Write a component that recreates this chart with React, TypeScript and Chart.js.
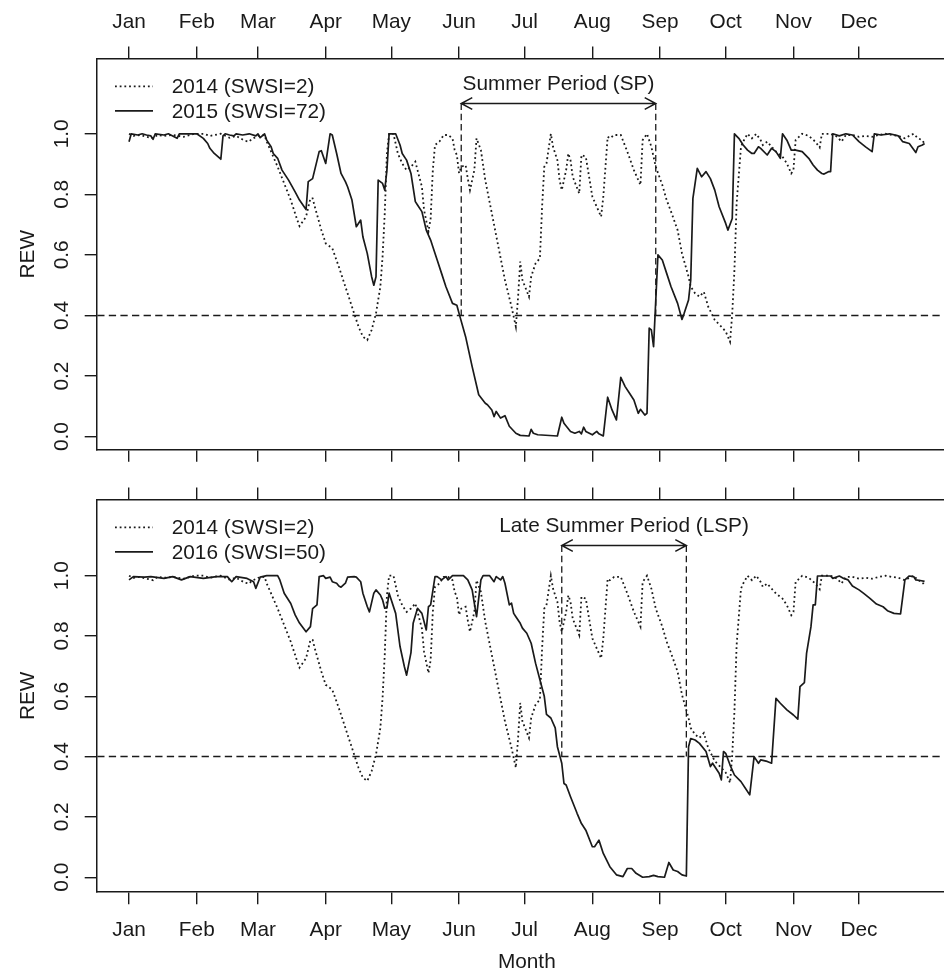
import React, { useEffect, useRef } from "react";
import { Chart, registerables } from "chart.js";
Chart.register(...registerables);

// ---------- data ----------
const MONTH_DAYS = [1, 32, 60, 91, 121, 152, 182, 213, 244, 274, 305, 335];
const MONTH_LABELS = ["Jan", "Feb", "Mar", "Apr", "May", "Jun", "Jul", "Aug", "Sep", "Oct", "Nov", "Dec"];
const Y_TICKS = [0, 0.2, 0.4, 0.6, 0.8, 1.0];

const DAYS_2014 = [1, 3, 6, 9, 12, 14, 17, 21, 26, 31, 35, 38, 40, 43, 47, 50, 54, 56, 57, 60, 63, 64, 66, 69, 72, 75, 78, 79, 82, 84, 85, 86, 89, 91, 94, 97, 100, 103, 106, 108, 110, 112, 114, 116, 117, 118, 119, 120, 122, 124, 126, 128, 130, 132, 133, 135, 136, 138, 139, 140, 141, 143, 145, 147, 149, 150, 151, 152, 153, 155, 156, 157, 159, 160, 162, 164, 167, 170, 173, 176, 178, 179, 180, 181, 184, 185, 187, 189, 190, 191, 192, 194, 195, 197, 198, 199, 201, 202, 203, 204, 207, 208, 210, 211, 213, 217, 218, 220, 221, 223, 226, 229, 232, 235, 236, 238, 240, 241, 242, 245, 247, 249, 252, 254, 257, 258, 260, 262, 264, 266, 269, 272, 274, 275, 276, 277, 278, 279, 281, 282, 284, 286, 288, 290, 291, 293, 295, 297, 300, 302, 304, 305, 306, 309, 312, 315, 317, 318, 322, 325, 327, 329, 332, 335, 338, 341, 344, 347, 350, 353, 356, 358, 360, 362, 364, 365];
const REW_2014 = [1.0, 0.993, 0.996, 0.99, 0.985, 0.996, 0.993, 0.996, 0.99, 1.0, 1.0, 0.993, 0.996, 1.0, 0.987, 0.993, 0.977, 0.974, 0.982, 0.993, 0.996, 0.974, 0.941, 0.891, 0.836, 0.781, 0.715, 0.695, 0.726, 0.787, 0.787, 0.759, 0.682, 0.638, 0.622, 0.561, 0.495, 0.429, 0.363, 0.33, 0.319, 0.352, 0.407, 0.495, 0.594, 0.737, 0.935, 1.0, 1.0, 0.935, 0.902, 0.88, 0.891, 0.908, 0.88, 0.825, 0.748, 0.677, 0.72, 0.88, 0.963, 0.974, 0.996, 0.996, 0.985, 0.946, 0.93, 0.87, 0.891, 0.897, 0.852, 0.814, 0.88, 0.985, 0.946, 0.847, 0.737, 0.627, 0.517, 0.429, 0.363, 0.46, 0.578, 0.517, 0.462, 0.528, 0.572, 0.589, 0.759, 0.891, 0.902, 1.0, 0.957, 0.913, 0.847, 0.814, 0.88, 0.935, 0.913, 0.858, 0.803, 0.93, 0.924, 0.88, 0.792, 0.726, 0.792, 0.99, 0.985, 0.996, 0.996, 0.941, 0.88, 0.831, 0.979, 1.0, 0.957, 0.924, 0.891, 0.831, 0.781, 0.743, 0.682, 0.605, 0.528, 0.495, 0.473, 0.462, 0.478, 0.429, 0.385, 0.363, 0.347, 0.33, 0.313, 0.407, 0.55, 0.77, 0.957, 0.974, 1.0, 0.985, 1.0, 0.979, 0.963, 0.974, 0.957, 0.941, 0.924, 0.902, 0.869, 0.88, 0.979, 1.0, 0.993, 0.974, 0.955, 1.0, 1.0, 0.99, 0.974, 0.996, 0.996, 0.99, 0.993, 0.99, 0.996, 1.0, 0.996, 0.993, 0.985, 0.993, 1.0, 0.985, 0.979, 0.966];

const DAYS_2015 = [1, 2, 5, 7, 9, 11, 12, 13, 17, 19, 21, 23, 24, 28, 32, 35, 37, 38, 40, 43, 44, 45, 47, 49, 50, 53, 56, 59, 60, 61, 63, 64, 66, 67, 69, 71, 74, 77, 79, 82, 83, 84, 85, 88, 89, 91, 93, 94, 96, 98, 100, 101, 103, 105, 107, 108, 110, 112, 113, 114, 115, 117, 118, 119, 120, 123, 125, 126, 128, 130, 132, 133, 135, 137, 139, 140, 142, 144, 146, 149, 151, 152, 155, 158, 161, 164, 165, 167, 168, 169, 171, 173, 175, 178, 180, 184, 185, 186, 188, 197, 199, 200, 203, 205, 207, 208, 209, 210, 213, 215, 216, 218, 220, 222, 224, 226, 228, 230, 232, 234, 235, 237, 238, 239, 240, 241, 243, 245, 247, 249, 252, 254, 255, 257, 258, 259, 261, 263, 265, 267, 269, 271, 274, 275, 277, 278, 280, 282, 284, 286, 287, 289, 290, 293, 295, 297, 299, 300, 302, 304, 306, 309, 312, 314, 316, 318, 319, 321, 322, 323, 326, 329, 332, 335, 338, 341, 342, 345, 349, 353, 355, 358, 361, 362, 364, 365];
const REW_2015 = [0.974, 1.0, 0.996, 1.0, 0.996, 0.993, 0.982, 1.0, 0.996, 1.0, 0.993, 0.985, 1.0, 1.0, 1.0, 0.985, 0.968, 0.952, 0.935, 0.916, 0.993, 1.0, 0.996, 0.993, 1.0, 0.996, 1.0, 0.993, 1.0, 0.987, 1.0, 0.979, 0.957, 0.935, 0.919, 0.88, 0.847, 0.808, 0.781, 0.75, 0.842, 0.847, 0.852, 0.941, 0.944, 0.902, 1.0, 0.996, 0.935, 0.869, 0.842, 0.825, 0.781, 0.693, 0.715, 0.66, 0.605, 0.528, 0.5, 0.528, 0.847, 0.836, 0.814, 0.88, 1.0, 1.0, 0.963, 0.935, 0.913, 0.869, 0.776, 0.765, 0.743, 0.682, 0.649, 0.627, 0.583, 0.539, 0.495, 0.44, 0.434, 0.407, 0.33, 0.231, 0.138, 0.11, 0.105, 0.088, 0.066, 0.083, 0.061, 0.069, 0.034, 0.011, 0.004, 0.002, 0.024, 0.011, 0.006, 0.002, 0.064, 0.044, 0.017, 0.011, 0.017, 0.009, 0.031, 0.017, 0.006, 0.017, 0.009, 0.002, 0.13, 0.088, 0.055, 0.196, 0.165, 0.143, 0.121, 0.077, 0.09, 0.071, 0.077, 0.358, 0.352, 0.297, 0.6, 0.583, 0.539, 0.495, 0.44, 0.387, 0.407, 0.451, 0.517, 0.787, 0.886, 0.858, 0.875, 0.852, 0.814, 0.759, 0.704, 0.682, 0.72, 1.0, 0.985, 0.963, 0.946, 0.935, 0.935, 0.957, 0.952, 0.93, 0.952, 0.941, 0.919, 1.0, 0.979, 0.946, 0.946, 0.941, 0.919, 0.897, 0.88, 0.869, 0.867, 0.875, 0.875, 1.0, 0.993, 1.0, 0.996, 0.974, 0.957, 0.941, 1.0, 0.996, 1.0, 0.993, 0.974, 0.968, 0.938, 0.957, 0.963, 0.968];

const DAYS_2016 = [1, 3, 8, 11, 17, 21, 25, 29, 35, 41, 46, 48, 50, 55, 58, 59, 61, 64, 69, 70, 72, 75, 77, 79, 82, 84, 85, 87, 88, 90, 91, 93, 94, 96, 97, 98, 100, 101, 104, 105, 107, 108, 110, 111, 113, 114, 116, 117, 118, 119, 120, 123, 125, 127, 128, 130, 131, 133, 135, 137, 138, 139, 141, 142, 144, 146, 147, 149, 154, 156, 158, 159, 160, 162, 163, 166, 168, 169, 171, 172, 173, 175, 176, 177, 178, 180, 181, 183, 185, 187, 189, 191, 192, 194, 196, 197, 199, 200, 201, 203, 206, 208, 210, 213, 214, 216, 218, 221, 224, 227, 229, 231, 233, 236, 239, 241, 243, 246, 248, 250, 252, 254, 256, 257, 258, 260, 262, 265, 267, 268, 271, 272, 273, 274, 276, 278, 281, 283, 285, 287, 289, 290, 293, 295, 297, 299, 302, 305, 307, 308, 310, 311, 313, 314, 315, 316, 318, 322, 323, 326, 328, 330, 332, 335, 337, 340, 343, 346, 348, 351, 354, 356, 358, 360, 361, 363, 365];
const REW_2016 = [0.986, 0.997, 0.995, 0.997, 0.991, 0.997, 0.986, 0.997, 0.991, 0.997, 0.997, 0.98, 0.997, 0.991, 0.98, 0.958, 0.995, 1.0, 1.0, 0.986, 0.942, 0.908, 0.87, 0.843, 0.814, 0.831, 0.891, 0.903, 0.997, 1.0, 0.991, 0.995, 0.98, 0.975, 0.966, 0.962, 0.975, 0.995, 0.997, 0.995, 0.98, 0.942, 0.898, 0.88, 0.942, 0.953, 0.936, 0.92, 0.892, 0.893, 0.942, 0.875, 0.765, 0.698, 0.67, 0.745, 0.842, 0.892, 0.875, 0.82, 0.897, 0.903, 0.997, 0.997, 0.986, 0.997, 0.986, 1.0, 1.0, 0.986, 0.953, 0.908, 0.864, 0.986, 1.0, 1.0, 0.98, 0.997, 0.986, 0.997, 0.975, 0.903, 0.909, 0.875, 0.864, 0.842, 0.826, 0.809, 0.776, 0.71, 0.655, 0.6, 0.54, 0.528, 0.495, 0.433, 0.378, 0.311, 0.306, 0.267, 0.212, 0.178, 0.156, 0.101, 0.101, 0.123, 0.079, 0.035, 0.008, 0.002, 0.029, 0.029, 0.013, 0.0, 0.002, 0.006, 0.002, 0.0, 0.049, 0.024, 0.019, 0.008, 0.004, 0.433, 0.46, 0.455, 0.444, 0.417, 0.367, 0.378, 0.345, 0.323, 0.417, 0.411, 0.372, 0.339, 0.317, 0.295, 0.273, 0.4, 0.378, 0.389, 0.384, 0.378, 0.593, 0.577, 0.555, 0.538, 0.524, 0.632, 0.645, 0.742, 0.83, 0.903, 0.903, 0.999, 0.999, 0.999, 0.991, 0.999, 0.991, 0.986, 0.966, 0.953, 0.942, 0.925, 0.906, 0.897, 0.884, 0.875, 0.873, 0.986, 0.999, 0.997, 0.986, 0.984, 0.981];

const THRESHOLD = 0.4;
const SP_START = 153;
const SP_END = 242;
const LSP_START = 199;
const LSP_END = 256;
const PERIOD_ARROW_Y = 1.1;
const PERIOD_LABEL_Y = 1.165;

// ---------- styling ----------
const FONT = "'Liberation Sans', Arial, Helvetica, sans-serif";
const FS = 20.8;
const INK = "#1a1a1a";
const X_MIN = -13.56;
const X_MAX = 379.56;
const CANVAS_W = 960;
const TICK_LEN = 12.5;
const DOT_DASH = [1.8, 2.9];
const DASH = [7.3, 4.3];

type Spec = {
  height: number;
  topAxisH: number;
  bottomAxisH: number;
  yMin: number;
  yMax: number;
  topLabels: boolean;
  bottomLabels: boolean;
  second: { label: string; days: number[]; rew: number[] };
  periodStart: number;
  periodEnd: number;
  periodLabel: string;
};

function pts(days: number[], rew: number[]) {
  return days.map((d, i) => ({ x: d, y: rew[i] }));
}

function makeDecor(spec: Spec) {
  return {
    id: "decor",
    afterDatasetsDraw(chart: any) {
      const { ctx, chartArea, scales } = chart;
      const xs = scales.x;
      const ys = scales.y;
      ctx.save();
      ctx.strokeStyle = INK;
      ctx.fillStyle = INK;
      ctx.lineWidth = 1.5;
      ctx.beginPath();
      ctx.rect(chartArea.left, chartArea.top, chartArea.right - chartArea.left, chartArea.bottom - chartArea.top);
      ctx.clip();
      const yT = ys.getPixelForValue(THRESHOLD);
      ctx.setLineDash(DASH);
      ctx.beginPath();
      ctx.moveTo(chartArea.left, yT);
      ctx.lineTo(chartArea.right, yT);
      ctx.stroke();
      const x0 = xs.getPixelForValue(spec.periodStart);
      const x1 = xs.getPixelForValue(spec.periodEnd);
      const yA = ys.getPixelForValue(PERIOD_ARROW_Y);
      ctx.lineWidth = 1.3;
      ctx.setLineDash([6.5, 3.8]);
      ctx.beginPath();
      ctx.moveTo(x0, yA);
      ctx.lineTo(x0, yT);
      ctx.moveTo(x1, yA);
      ctx.lineTo(x1, yT);
      ctx.stroke();
      ctx.setLineDash([]);
      ctx.lineWidth = 1.5;
      const L = 12.5;
      const a = (28 * Math.PI) / 180;
      const c = L * Math.cos(a);
      const s = L * Math.sin(a);
      ctx.beginPath();
      ctx.moveTo(x0, yA);
      ctx.lineTo(x1, yA);
      ctx.moveTo(x0 + c, yA - s);
      ctx.lineTo(x0, yA);
      ctx.lineTo(x0 + c, yA + s);
      ctx.moveTo(x1 - c, yA - s);
      ctx.lineTo(x1, yA);
      ctx.lineTo(x1 - c, yA + s);
      ctx.stroke();
      ctx.font = `${FS}px ${FONT}`;
      ctx.textAlign = "center";
      ctx.textBaseline = "middle";
      ctx.fillText(spec.periodLabel, (x0 + x1) / 2, ys.getPixelForValue(PERIOD_LABEL_Y));

      // legend
      const rows = [
        { label: "2014 (SWSI=2)", dash: DOT_DASH },
        { label: spec.second.label, dash: [] as number[] },
      ];
      rows.forEach((r, i) => {
        const y = chartArea.top + 27.3 + i * 24.5;
        ctx.lineWidth = 1.7;
        ctx.setLineDash(r.dash);
        ctx.beginPath();
        ctx.moveTo(chartArea.left + 17.8, y);
        ctx.lineTo(chartArea.left + 55.8, y);
        ctx.stroke();
        ctx.setLineDash([]);
        ctx.textAlign = "left";
        ctx.fillText(r.label, chartArea.left + 74.5, y + 1);
      });
      ctx.restore();
    },
  };
}

function makeConfig(spec: Spec): any {
  const font = { family: FONT, size: FS };
  const xCommon = (pos: "top" | "bottom", showLabels: boolean, h: number, pad: number) => ({
    type: "linear",
    position: pos,
    min: X_MIN,
    max: X_MAX,
    afterBuildTicks: (s: any) => {
      s.ticks = MONTH_DAYS.map((v) => ({ value: v }));
    },
    afterFit: (s: any) => {
      s.height = h;
    },
    grid: { drawOnChartArea: false, drawTicks: true, tickLength: TICK_LEN, color: INK, lineWidth: 1.4 },
    border: { display: true, color: INK, width: 1.5 },
    ticks: {
      display: showLabels,
      autoSkip: false,
      maxRotation: 0,
      minRotation: 0,
      padding: pad,
      color: INK,
      font,
      callback: (_v: any, i: number) => MONTH_LABELS[i],
    },
    title:
      pos === "bottom" && showLabels
        ? { display: true, text: "Month", color: INK, font: { family: FONT, size: FS, lineHeight: 1 }, padding: { top: 0, bottom: 0.6 } }
        : { display: false },
  });
  return {
    type: "line",
    data: {
      datasets: [
        {
          label: "2014 (SWSI=2)",
          data: pts(DAYS_2014, REW_2014),
          borderColor: INK,
          borderWidth: 1.8,
          borderDash: DOT_DASH,
          borderCapStyle: "butt",
          pointRadius: 0,
          tension: 0,
          xAxisID: "x",
          yAxisID: "y",
        },
        {
          label: spec.second.label,
          data: pts(spec.second.days, spec.second.rew),
          borderColor: INK,
          borderWidth: 1.7,
          borderJoinStyle: "round",
          pointRadius: 0,
          tension: 0,
          xAxisID: "x",
          yAxisID: "y",
        },
      ],
    },
    options: {
      responsive: false,
      animation: false,
      devicePixelRatio: 1,
      events: [],
      layout: { padding: { left: 0, top: 0, bottom: 0, right: CANVAS_W - 956.4 } },
      plugins: { legend: { display: false }, tooltip: { enabled: false } },
      scales: {
        x: xCommon("bottom", spec.bottomLabels, spec.bottomAxisH, 13.3),
        x2: xCommon("top", spec.topLabels, spec.topAxisH, 12),
        y: {
          type: "linear",
          position: "left",
          min: spec.yMin,
          max: spec.yMax,
          afterBuildTicks: (s: any) => {
            s.ticks = Y_TICKS.map((v) => ({ value: v }));
          },
          afterFit: (s: any) => {
            s.width = 97.2;
          },
          grid: { drawOnChartArea: false, drawTicks: true, tickLength: TICK_LEN, color: INK, lineWidth: 1.4 },
          border: { display: true, color: INK, width: 1.5 },
          ticks: {
            minRotation: 90,
            maxRotation: 90,
            crossAlign: "center",
            padding: 8.2,
            color: INK,
            font,
            callback: (v: any) => Number(v).toFixed(1),
          },
          title: { display: true, text: "REW", color: INK, font: { family: FONT, size: FS }, padding: { top: 15.5, bottom: 0 } },
        },
      },
    },
    plugins: [makeDecor(spec)],
  };
}

const TOP: Spec = {
  height: 474,
  topAxisH: 59,
  bottomAxisH: 24.7,
  yMin: -0.042,
  yMax: 1.247,
  topLabels: true,
  bottomLabels: false,
  second: { label: "2015 (SWSI=72)", days: DAYS_2015, rew: REW_2015 },
  periodStart: SP_START,
  periodEnd: SP_END,
  periodLabel: "Summer Period (SP)",
};

const BOTTOM: Spec = {
  height: 499,
  topAxisH: 26,
  bottomAxisH: 81.3,
  yMin: -0.048,
  yMax: 1.251,
  topLabels: false,
  bottomLabels: true,
  second: { label: "2016 (SWSI=50)", days: DAYS_2016, rew: REW_2016 },
  periodStart: LSP_START,
  periodEnd: LSP_END,
  periodLabel: "Late Summer Period (LSP)",
};

function Panel({ spec }: { spec: Spec }) {
  const ref = useRef<HTMLCanvasElement>(null);
  useEffect(() => {
    if (!ref.current) return;
    const chart = new Chart(ref.current, makeConfig(spec));
    return () => chart.destroy();
  }, [spec]);
  return <canvas ref={ref} width={CANVAS_W} height={spec.height} style={{ display: "block", width: CANVAS_W, height: spec.height }} />;
}

export default function App() {
  return (
    <div style={{ position: "absolute", left: 0, top: 0, width: 944, height: 973, overflow: "hidden", background: "#fff" }}>
      <Panel spec={TOP} />
      <Panel spec={BOTTOM} />
    </div>
  );
}
